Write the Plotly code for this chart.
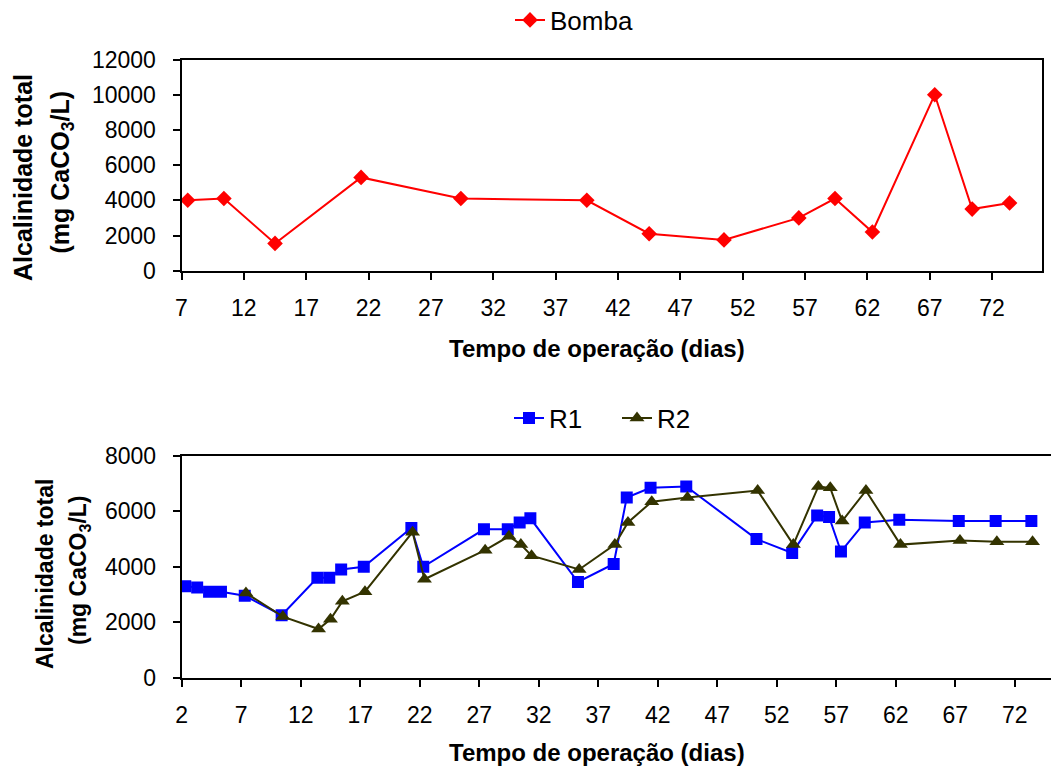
import plotly.graph_objects as go

# ---------------- data ----------------
bomba_days = [7.5, 10.4, 14.5, 21.4, 29.4, 39.5, 44.5, 50.5, 56.5, 59.4, 62.4, 67.4, 70.4, 73.4]
bomba_vals = [4000, 4100, 1550, 5300, 4100, 4000, 2100, 1750, 3000, 4100, 2200, 10000, 3500, 3850]

r1_days = [2.3, 3.3, 4.3, 5.3, 7.3, 10.4, 13.4, 14.4, 15.4, 17.3, 21.3, 22.3, 27.4, 29.4, 30.4,
           31.3, 35.3, 38.3, 39.4, 41.4, 44.4, 50.3, 53.3, 55.4, 56.4, 57.4, 59.4, 62.3, 67.3,
           70.4, 73.4]
r1_vals = [3300, 3250, 3100, 3100, 2950, 2250, 3600, 3600, 3900, 4000, 5400, 4000, 5350, 5350, 5600,
           5750, 3450, 4100, 6500, 6850, 6900, 5000, 4500, 5850, 5800, 4550, 5600, 5700, 5650,
           5650, 5650]

r2_days = [7.4, 10.5, 13.5, 14.5, 15.5, 17.4, 21.4, 22.4, 27.5, 29.5, 30.5, 31.4, 35.4, 38.4,
           39.5, 41.5, 44.5, 50.4, 53.4, 55.5, 56.5, 57.5, 59.5, 62.4, 67.4, 70.5, 73.5]
r2_vals = [3050, 2200, 1750, 2100, 2750, 3100, 5250, 3550, 4600, 5100, 4800, 4400, 3900, 4800,
           5600, 6350, 6500, 6750, 4800, 6900, 6850, 5650, 6750, 4800, 4950, 4900, 4900]

x_title = "Tempo de operação (dias)"
y_title_1 = "Alcalinidade total"
y_title_2 = "(mg CaCO<sub>3</sub>/L)"

W, H = 1051, 771
FONT = "Liberation Sans, Arial, sans-serif"

def px_x(p):
    return p / W

def px_y(p):
    return 1 - p / H

fig = go.Figure()

fig.add_trace(go.Scatter(
    x=bomba_days, y=bomba_vals, name="Bomba", mode="lines+markers",
    line=dict(color="#FF0000", width=2),
    marker=dict(symbol="diamond", size=12, color="#FF0000"),
    xaxis="x", yaxis="y", legend="legend", showlegend=True))

fig.add_trace(go.Scatter(
    x=r1_days, y=r1_vals, name="R1", mode="lines+markers",
    line=dict(color="#0000FF", width=2),
    marker=dict(symbol="square", size=12, color="#0000FF"),
    xaxis="x2", yaxis="y2", legend="legend2", showlegend=True))

fig.add_trace(go.Scatter(
    x=r2_days, y=r2_vals, name="R2", mode="lines+markers",
    line=dict(color="#333300", width=2),
    marker=dict(symbol="triangle-up", size=13, color="#333300"),
    xaxis="x2", yaxis="y2", legend="legend2", showlegend=True))

axis_common = dict(
    showline=True, linecolor="black", linewidth=2,
    ticks="outside", ticklen=7, tickwidth=2, tickcolor="black",
    showgrid=False, zeroline=False, tickformat="d",
    tickfont=dict(family=FONT, size=23, color="black"),
)

fig.update_layout(
    width=W, height=H,
    showlegend=True,
    margin=dict(l=0, r=0, t=0, b=0, autoexpand=False),
    paper_bgcolor="white", plot_bgcolor="white",
    font=dict(family=FONT, color="black"),
    xaxis=dict(domain=[px_x(181.5), px_x(1042)], range=[7, 76], tick0=7, dtick=5,
               mirror=True, anchor="y", ticklabelstandoff=9, **axis_common),
    yaxis=dict(domain=[px_y(270.7), px_y(59.5)], range=[0, 12000], dtick=2000,
               mirror=True, anchor="x", ticklabelstandoff=12, **axis_common),
    xaxis2=dict(domain=[px_x(181.7), 1.0], range=[2, 75.05], tick0=2, dtick=5,
                mirror=True, anchor="y2", ticklabelstandoff=9, **axis_common),
    yaxis2=dict(domain=[px_y(677.5), px_y(456)], range=[0, 8000], dtick=2000,
                mirror=False, anchor="x2", ticklabelstandoff=12, **axis_common),
    legend=dict(visible=True, orientation="h", x=px_x(510), y=px_y(20), xanchor="left", yanchor="middle",
                font=dict(family=FONT, size=26, color="black"), bgcolor="rgba(0,0,0,0)"),
    legend2=dict(visible=True, orientation="h", x=px_x(509), y=px_y(418), xanchor="left", yanchor="middle",
                 entrywidth=63, entrywidthmode="pixels",
                 font=dict(family=FONT, size=26, color="black"), bgcolor="rgba(0,0,0,0)"),
)

annots = [
    dict(text=f"<b>{x_title}</b>", x=px_x(597), y=px_y(349), font_size=24),
    dict(text=f"<b>{x_title}</b>", x=px_x(597), y=px_y(752), font_size=24),
    dict(text=f"<b>{y_title_1}</b>", x=px_x(23.5), y=px_y(177.5), font_size=25, textangle=-90),
    dict(text=f"<b>{y_title_2}</b>", x=px_x(61), y=px_y(172.5), font_size=25, textangle=-90),
    dict(text=f"<b>{y_title_1}</b>", x=px_x(45), y=px_y(574), font_size=23, textangle=-90),
    dict(text=f"<b>{y_title_2}</b>", x=px_x(79), y=px_y(570), font_size=23, textangle=-90),
]
for a in annots:
    fig.add_annotation(xref="paper", yref="paper", showarrow=False,
                       xanchor="center", yanchor="middle",
                       font=dict(family=FONT, color="black", size=a.pop("font_size")), **a)

fig.write_html("out.html")
